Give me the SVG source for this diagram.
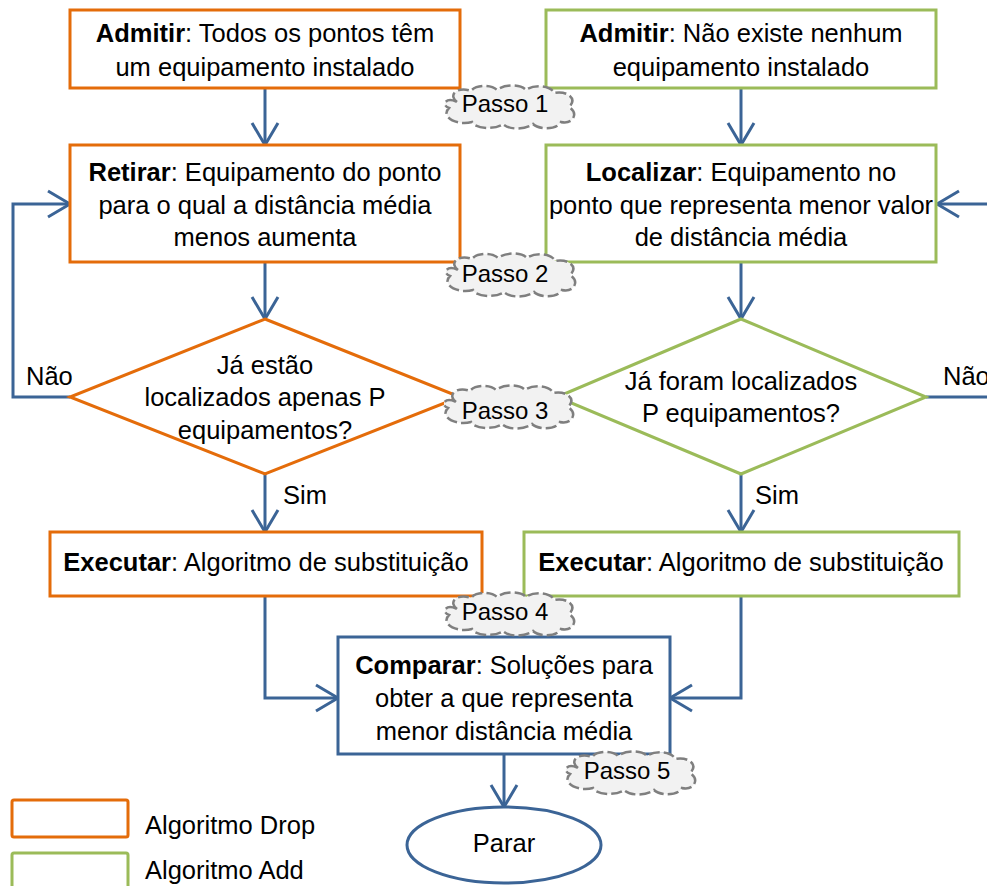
<svg xmlns="http://www.w3.org/2000/svg" width="987" height="886" viewBox="0 0 987 886">
  <style>
    text { font-family: "Liberation Sans", Arial, sans-serif; font-size: 25.5px; fill: #000; }
    .b { font-weight: bold; }
    .drop { fill: #fff; stroke: #E46C0A; stroke-width: 3; }
    .add { fill: #fff; stroke: #9BBB59; stroke-width: 3; }
    .cmp { fill: #fff; stroke: #3B6496; stroke-width: 3; }
    .wire { fill: none; stroke: #3B6496; stroke-width: 3; }
    .cloud { fill: #F2F2F2; stroke: #7F7F7F; stroke-width: 2.5; stroke-dasharray: 11 4; }
    .step { font-size: 24px; }
  </style>
  <defs>
    <marker id="arrow" markerUnits="userSpaceOnUse" viewBox="0 0 26 30" refX="24" refY="15" markerWidth="26" markerHeight="30" orient="auto">
      <path d="M2,2 L24,15 L2,28" fill="none" stroke="#3B6496" stroke-width="3"/>
    </marker>
    <path id="cloudShape" d="M -52,-6 C -62,-14 -50,-22 -38,-17 C -34,-23 -18,-24 -12,-18 C -5,-24 12,-24 17,-18 C 24,-24 42,-23 45,-15 C 58,-18 69,-9 60,-1 C 70,5 64,17 52,14 C 48,22 30,22 24,16 C 16,22 0,22 -6,16 C -14,22 -34,21 -37,14 C -52,18 -69,9 -60,0 C -69,-4 -62,-11 -52,-6 Z"/>
  </defs>

  <!-- connectors -->
  <g id="connectors">
    <line class="wire" x1="265" y1="88" x2="265" y2="145" marker-end="url(#arrow)"/>
    <line class="wire" x1="741" y1="88" x2="741" y2="145" marker-end="url(#arrow)"/>
    <line class="wire" x1="265" y1="262" x2="265" y2="319" marker-end="url(#arrow)"/>
    <line class="wire" x1="741" y1="262" x2="741" y2="319" marker-end="url(#arrow)"/>
    <polyline class="wire" points="70,397 13,397 13,204 70,204" marker-end="url(#arrow)"/>
    <line class="wire" x1="926" y1="397" x2="987" y2="397"/>
    <line class="wire" x1="987" y1="204" x2="937" y2="204" marker-end="url(#arrow)"/>
    <line class="wire" x1="265" y1="474" x2="265" y2="532" marker-end="url(#arrow)"/>
    <line class="wire" x1="741" y1="474" x2="741" y2="532" marker-end="url(#arrow)"/>
    <polyline class="wire" points="265,596 265,698 338,698" marker-end="url(#arrow)"/>
    <polyline class="wire" points="741,596 741,698 670,698" marker-end="url(#arrow)"/>
    <line class="wire" x1="504" y1="754" x2="504" y2="807" marker-end="url(#arrow)"/>
    <text x="26" y="385">Não</text>
    <text x="943" y="385">Não</text>
    <text x="283" y="504">Sim</text>
    <text x="755" y="504">Sim</text>
  </g>

  <!-- Drop column -->
  <g id="drop-admit">
    <rect class="drop" x="70" y="10" width="390" height="78"/>
    <text x="265" y="42" text-anchor="middle"><tspan class="b">Admitir</tspan>: Todos os pontos têm</text>
    <text x="265" y="76" text-anchor="middle">um equipamento instalado</text>
  </g>
  <g id="drop-remove">
    <rect class="drop" x="70" y="145" width="390" height="117"/>
    <text x="265" y="181" text-anchor="middle"><tspan class="b">Retirar</tspan>: Equipamento do ponto</text>
    <text x="265" y="214" text-anchor="middle">para o qual a distância média</text>
    <text x="265" y="246" text-anchor="middle">menos aumenta</text>
  </g>
  <g id="drop-check">
    <polygon class="drop" points="265,319 460,397 265,474 70,397"/>
    <text x="265" y="374" text-anchor="middle">Já estão</text>
    <text x="265" y="406" text-anchor="middle">localizados apenas P</text>
    <text x="265" y="439" text-anchor="middle">equipamentos?</text>
  </g>
  <g id="drop-run">
    <rect class="drop" x="50" y="532" width="432" height="64"/>
    <text x="266" y="571" text-anchor="middle"><tspan class="b">Executar</tspan>: Algoritmo de substituição</text>
  </g>

  <!-- Add column -->
  <g id="add-admit">
    <rect class="add" x="546" y="10" width="390" height="78"/>
    <text x="741" y="42" text-anchor="middle"><tspan class="b">Admitir</tspan>: Não existe nenhum</text>
    <text x="741" y="76" text-anchor="middle">equipamento instalado</text>
  </g>
  <g id="add-locate">
    <rect class="add" x="546" y="145" width="390" height="117"/>
    <text x="741" y="181" text-anchor="middle"><tspan class="b">Localizar</tspan>: Equipamento no</text>
    <text x="741" y="214" text-anchor="middle">ponto que representa menor valor</text>
    <text x="741" y="246" text-anchor="middle">de distância média</text>
  </g>
  <g id="add-check">
    <polygon class="add" points="741,319 926,397 741,474 557,397"/>
    <text x="741" y="390" text-anchor="middle">Já foram localizados</text>
    <text x="741" y="422" text-anchor="middle">P equipamentos?</text>
  </g>
  <g id="add-run">
    <rect class="add" x="524" y="532" width="435" height="64"/>
    <text x="741" y="571" text-anchor="middle"><tspan class="b">Executar</tspan>: Algoritmo de substituição</text>
  </g>

  <!-- shared end -->
  <g id="compare">
    <rect class="cmp" x="338" y="637" width="332" height="117"/>
    <text x="504" y="674" text-anchor="middle"><tspan class="b">Comparar</tspan>: Soluções para</text>
    <text x="504" y="707" text-anchor="middle">obter a que representa</text>
    <text x="504" y="740" text-anchor="middle">menor distância média</text>
  </g>
  <g id="stop">
    <ellipse class="cmp" cx="504" cy="845" rx="97" ry="38"/>
    <text x="504" y="852" text-anchor="middle">Parar</text>
  </g>

  <!-- step callouts -->
  <g id="step1">
    <use href="#cloudShape" class="cloud" transform="translate(509,108)"/>
    <text class="step" x="505" y="112" text-anchor="middle">Passo 1</text>
  </g>
  <g id="step2">
    <use href="#cloudShape" class="cloud" transform="translate(510,276)"/>
    <text class="step" x="505" y="282" text-anchor="middle">Passo 2</text>
  </g>
  <g id="step3">
    <use href="#cloudShape" class="cloud" transform="translate(508,408)"/>
    <text class="step" x="505" y="419" text-anchor="middle">Passo 3</text>
  </g>
  <g id="step4">
    <use href="#cloudShape" class="cloud" transform="translate(509,615)"/>
    <text class="step" x="505" y="620" text-anchor="middle">Passo 4</text>
  </g>
  <g id="step5">
    <use href="#cloudShape" class="cloud" transform="translate(630,774)"/>
    <text class="step" x="627" y="779" text-anchor="middle">Passo 5</text>
  </g>

  <!-- legend -->
  <g id="legend-drop">
    <rect class="drop" x="12" y="800" width="116" height="37" rx="2"/>
    <text x="145" y="834">Algoritmo Drop</text>
  </g>
  <g id="legend-add">
    <rect class="add" x="12" y="853" width="116" height="40" rx="2"/>
    <text x="145" y="879">Algoritmo Add</text>
  </g>
</svg>
